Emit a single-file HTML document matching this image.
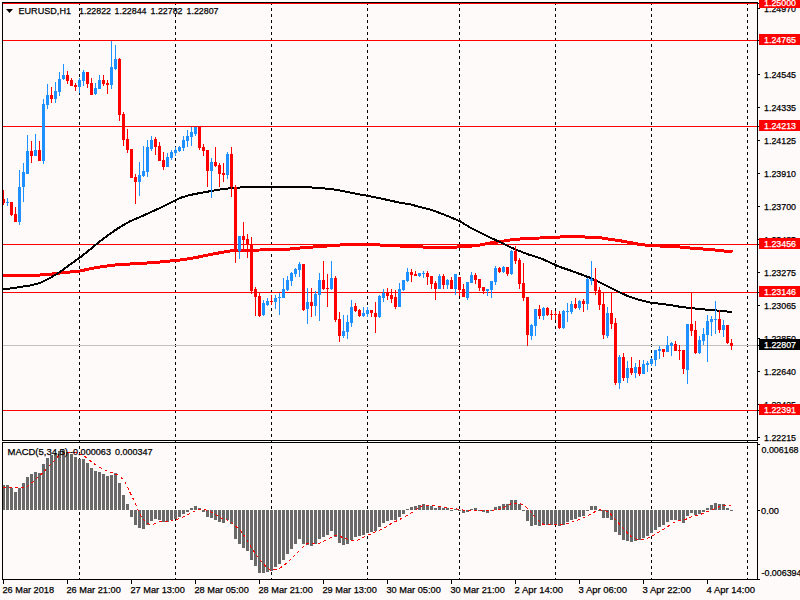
<!DOCTYPE html>
<html><head><meta charset="utf-8"><title>EURUSD,H1</title>
<style>
html,body{margin:0;padding:0;background:#FFFAFA;overflow:hidden}
svg{display:block;position:absolute;left:0;top:0}
text{font-family:"Liberation Sans",sans-serif;font-size:9.6px;stroke-width:0.25px;paint-order:stroke}
</style></head><body>
<svg width="800" height="600" viewBox="0 0 800 600">
<rect x="0" y="0" width="800" height="600" fill="#FFFAFA"/>
<g shape-rendering="crispEdges">
<rect x="2" y="2" width="756" height="1" fill="#000"/>
<rect x="2" y="440" width="756" height="1" fill="#000"/>
<rect x="2" y="2" width="1" height="439" fill="#000"/>
<rect x="757" y="2" width="1" height="439" fill="#000"/>
<rect x="2" y="442" width="756" height="1" fill="#000"/>
<rect x="2" y="579" width="758" height="1" fill="#000"/>
<rect x="2" y="442" width="1" height="138" fill="#000"/>
<rect x="757" y="442" width="1" height="138" fill="#000"/>
<path d="M79.5 2V580" stroke="#000" stroke-width="1" stroke-dasharray="3 3" fill="none"/>
<path d="M175.5 2V580" stroke="#000" stroke-width="1" stroke-dasharray="3 3" fill="none"/>
<path d="M271.5 2V580" stroke="#000" stroke-width="1" stroke-dasharray="3 3" fill="none"/>
<path d="M367.5 2V580" stroke="#000" stroke-width="1" stroke-dasharray="3 3" fill="none"/>
<path d="M459.5 2V580" stroke="#000" stroke-width="1" stroke-dasharray="3 3" fill="none"/>
<path d="M555.5 2V580" stroke="#000" stroke-width="1" stroke-dasharray="3 3" fill="none"/>
<path d="M651.5 2V580" stroke="#000" stroke-width="1" stroke-dasharray="3 3" fill="none"/>
<path d="M747.5 2V580" stroke="#000" stroke-width="1" stroke-dasharray="3 3" fill="none"/>
<rect x="3" y="3" width="754" height="1" fill="#FF0000"/>
<rect x="3" y="40" width="754" height="1" fill="#FF0000"/>
<rect x="3" y="126" width="754" height="1" fill="#FF0000"/>
<rect x="3" y="244" width="754" height="1" fill="#FF0000"/>
<rect x="3" y="292" width="754" height="1" fill="#FF0000"/>
<rect x="3" y="410" width="754" height="1" fill="#FF0000"/>
<rect x="3" y="345" width="754" height="1" fill="#C0C0C0"/>
<path d="M3 275 L40 275 L50 274.25 L60 273 L70 272 L80 271 L90 268.75 L100 267 L110 265.5 L120 264.5 L140 263.5 L160 262 L170 261 L180 260 L190 258.5 L200 256.75 L210 254.5 L220 252.75 L230 251 L240 250.4 L260 250 L280 249.5 L290 249 L300 248 L320 246.5 L340 245 L350 244.25 L360 244.25 L370 244.25 L380 245 L400 246 L415 246.5 L430 247.5 L440 248 L450 247.5 L460 246.75 L470 246.25 L480 245 L490 243 L500 241.75 L510 240 L520 239 L530 238.25 L540 238 L550 237.5 L560 237 L570 236.5 L580 236.75 L590 237.25 L600 237.75 L610 239.25 L620 240.75 L630 242.5 L640 244.5 L650 245.5 L660 246 L670 246.5 L680 247 L690 248 L700 248.75 L710 249.5 L720 250.5 L732.5 252" stroke="#FF0000" stroke-width="3" fill="none" stroke-linejoin="round" />
<path d="M3 289.5 L10 288.5 L20 287 L30 285.5 L40 283 L50 278 L60 272 L70 264.5 L80 257.5 L90 249.5 L100 241.25 L110 233.75 L120 227 L130 221.25 L140 217 L150 212.5 L160 208 L170 203 L180 198 L190 195 L200 193 L210 191.25 L220 189.5 L230 188.25 L240 187.5 L250 186.6 L256 187.4 L270 187.5 L280 187 L290 186.5 L300 186.5 L310 187.3 L320 188.25 L330 188.75 L340 190.5 L350 192.5 L360 194.5 L370 196.25 L380 198.25 L390 200.5 L400 202.75 L410 204.25 L420 207 L430 209.5 L440 213 L450 217 L460 221.25 L470 227.5 L480 232.5 L490 237.5 L500 242 L510 247 L520 251.25 L530 255 L540 258 L550 262.5 L560 267 L570 270.3 L580 274 L590 277.75 L600 282.5 L610 287.5 L620 292.5 L630 297 L640 300 L650 302.5 L660 303.75 L670 305 L680 306.75 L690 308 L700 309 L710 310 L720 310.75 L732 312" stroke="#000" stroke-width="2" fill="none" stroke-linejoin="round" />
<rect x="3" y="190" width="1" height="15" fill="#FF0000"/>
<rect x="3" y="199" width="2" height="4" fill="#FF0000"/>
<rect x="7" y="198" width="1" height="8" fill="#1E90FF"/>
<rect x="6" y="202" width="3" height="1" fill="#1E90FF"/>
<rect x="11" y="202" width="1" height="14" fill="#FF0000"/>
<rect x="10" y="202" width="3" height="13" fill="#FF0000"/>
<rect x="15" y="207" width="1" height="15" fill="#FF0000"/>
<rect x="14" y="214" width="3" height="8" fill="#FF0000"/>
<rect x="19" y="170" width="1" height="55" fill="#1E90FF"/>
<rect x="18" y="187" width="3" height="35" fill="#1E90FF"/>
<rect x="23" y="163" width="1" height="39" fill="#1E90FF"/>
<rect x="22" y="172" width="3" height="15" fill="#1E90FF"/>
<rect x="27" y="135" width="1" height="39" fill="#1E90FF"/>
<rect x="26" y="151" width="3" height="23" fill="#1E90FF"/>
<rect x="31" y="141" width="1" height="22" fill="#FF0000"/>
<rect x="30" y="151" width="3" height="5" fill="#FF0000"/>
<rect x="35" y="134" width="1" height="22" fill="#1E90FF"/>
<rect x="34" y="150" width="3" height="6" fill="#1E90FF"/>
<rect x="39" y="141" width="1" height="20" fill="#FF0000"/>
<rect x="38" y="150" width="3" height="11" fill="#FF0000"/>
<rect x="43" y="99" width="1" height="65" fill="#1E90FF"/>
<rect x="42" y="104" width="3" height="57" fill="#1E90FF"/>
<rect x="47" y="84" width="1" height="25" fill="#1E90FF"/>
<rect x="46" y="95" width="3" height="10" fill="#1E90FF"/>
<rect x="51" y="87" width="1" height="16" fill="#FF0000"/>
<rect x="50" y="95" width="3" height="4" fill="#FF0000"/>
<rect x="55" y="82" width="1" height="21" fill="#1E90FF"/>
<rect x="54" y="91" width="3" height="8" fill="#1E90FF"/>
<rect x="59" y="72" width="1" height="24" fill="#1E90FF"/>
<rect x="58" y="79" width="3" height="13" fill="#1E90FF"/>
<rect x="63" y="64" width="1" height="16" fill="#1E90FF"/>
<rect x="62" y="75" width="3" height="4" fill="#1E90FF"/>
<rect x="67" y="71" width="1" height="13" fill="#FF0000"/>
<rect x="66" y="75" width="3" height="6" fill="#FF0000"/>
<rect x="71" y="78" width="1" height="8" fill="#FF0000"/>
<rect x="70" y="80" width="3" height="6" fill="#FF0000"/>
<rect x="75" y="83" width="1" height="8" fill="#FF0000"/>
<rect x="74" y="85" width="3" height="2" fill="#FF0000"/>
<rect x="79" y="78" width="1" height="15" fill="#1E90FF"/>
<rect x="78" y="80" width="3" height="7" fill="#1E90FF"/>
<rect x="83" y="70" width="1" height="16" fill="#1E90FF"/>
<rect x="82" y="72" width="3" height="9" fill="#1E90FF"/>
<rect x="87" y="72" width="1" height="16" fill="#FF0000"/>
<rect x="86" y="72" width="3" height="12" fill="#FF0000"/>
<rect x="91" y="78" width="1" height="17" fill="#FF0000"/>
<rect x="90" y="83" width="3" height="12" fill="#FF0000"/>
<rect x="95" y="83" width="1" height="12" fill="#1E90FF"/>
<rect x="94" y="88" width="3" height="6" fill="#1E90FF"/>
<rect x="99" y="75" width="1" height="14" fill="#1E90FF"/>
<rect x="98" y="80" width="3" height="9" fill="#1E90FF"/>
<rect x="103" y="75" width="1" height="11" fill="#FF0000"/>
<rect x="102" y="80" width="3" height="4" fill="#FF0000"/>
<rect x="107" y="80" width="1" height="14" fill="#FF0000"/>
<rect x="106" y="83" width="3" height="2" fill="#FF0000"/>
<rect x="111" y="41" width="1" height="48" fill="#1E90FF"/>
<rect x="110" y="67" width="3" height="18" fill="#1E90FF"/>
<rect x="115" y="45" width="1" height="25" fill="#1E90FF"/>
<rect x="114" y="59" width="3" height="10" fill="#1E90FF"/>
<rect x="119" y="58" width="1" height="63" fill="#FF0000"/>
<rect x="118" y="59" width="3" height="56" fill="#FF0000"/>
<rect x="123" y="112" width="1" height="34" fill="#FF0000"/>
<rect x="122" y="114" width="3" height="26" fill="#FF0000"/>
<rect x="127" y="129" width="1" height="24" fill="#FF0000"/>
<rect x="126" y="139" width="3" height="11" fill="#FF0000"/>
<rect x="131" y="149" width="1" height="29" fill="#FF0000"/>
<rect x="130" y="149" width="3" height="29" fill="#FF0000"/>
<rect x="135" y="174" width="1" height="30" fill="#FF0000"/>
<rect x="134" y="177" width="3" height="5" fill="#FF0000"/>
<rect x="139" y="162" width="1" height="34" fill="#1E90FF"/>
<rect x="138" y="175" width="3" height="7" fill="#1E90FF"/>
<rect x="143" y="146" width="1" height="31" fill="#1E90FF"/>
<rect x="142" y="171" width="3" height="5" fill="#1E90FF"/>
<rect x="147" y="140" width="1" height="37" fill="#1E90FF"/>
<rect x="146" y="147" width="3" height="25" fill="#1E90FF"/>
<rect x="151" y="136" width="1" height="15" fill="#1E90FF"/>
<rect x="150" y="140" width="3" height="9" fill="#1E90FF"/>
<rect x="155" y="137" width="1" height="18" fill="#FF0000"/>
<rect x="154" y="139" width="3" height="8" fill="#FF0000"/>
<rect x="159" y="142" width="1" height="19" fill="#FF0000"/>
<rect x="158" y="146" width="3" height="15" fill="#FF0000"/>
<rect x="163" y="152" width="1" height="18" fill="#FF0000"/>
<rect x="162" y="160" width="3" height="7" fill="#FF0000"/>
<rect x="167" y="153" width="1" height="14" fill="#1E90FF"/>
<rect x="166" y="157" width="3" height="10" fill="#1E90FF"/>
<rect x="171" y="150" width="1" height="10" fill="#1E90FF"/>
<rect x="170" y="152" width="3" height="6" fill="#1E90FF"/>
<rect x="175" y="147" width="1" height="9" fill="#1E90FF"/>
<rect x="174" y="150" width="3" height="3" fill="#1E90FF"/>
<rect x="179" y="146" width="1" height="6" fill="#1E90FF"/>
<rect x="178" y="147" width="3" height="4" fill="#1E90FF"/>
<rect x="183" y="136" width="1" height="15" fill="#1E90FF"/>
<rect x="182" y="140" width="3" height="8" fill="#1E90FF"/>
<rect x="187" y="130" width="1" height="17" fill="#1E90FF"/>
<rect x="186" y="136" width="3" height="5" fill="#1E90FF"/>
<rect x="191" y="127" width="1" height="19" fill="#1E90FF"/>
<rect x="190" y="132" width="3" height="5" fill="#1E90FF"/>
<rect x="195" y="127" width="1" height="9" fill="#1E90FF"/>
<rect x="194" y="127" width="3" height="7" fill="#1E90FF"/>
<rect x="199" y="127" width="1" height="23" fill="#FF0000"/>
<rect x="198" y="127" width="3" height="21" fill="#FF0000"/>
<rect x="203" y="144" width="1" height="12" fill="#FF0000"/>
<rect x="202" y="147" width="3" height="4" fill="#FF0000"/>
<rect x="207" y="150" width="1" height="37" fill="#FF0000"/>
<rect x="206" y="150" width="3" height="21" fill="#FF0000"/>
<rect x="211" y="158" width="1" height="40" fill="#1E90FF"/>
<rect x="210" y="162" width="3" height="9" fill="#1E90FF"/>
<rect x="215" y="147" width="1" height="20" fill="#FF0000"/>
<rect x="214" y="162" width="3" height="4" fill="#FF0000"/>
<rect x="219" y="163" width="1" height="24" fill="#FF0000"/>
<rect x="218" y="165" width="3" height="9" fill="#FF0000"/>
<rect x="223" y="163" width="1" height="19" fill="#FF0000"/>
<rect x="222" y="173" width="3" height="2" fill="#FF0000"/>
<rect x="227" y="152" width="1" height="27" fill="#1E90FF"/>
<rect x="226" y="154" width="3" height="21" fill="#1E90FF"/>
<rect x="231" y="147" width="1" height="50" fill="#FF0000"/>
<rect x="230" y="154" width="3" height="33" fill="#FF0000"/>
<rect x="235" y="185" width="1" height="78" fill="#FF0000"/>
<rect x="234" y="187" width="3" height="63" fill="#FF0000"/>
<rect x="239" y="236" width="1" height="23" fill="#1E90FF"/>
<rect x="238" y="236" width="3" height="15" fill="#1E90FF"/>
<rect x="243" y="222" width="1" height="28" fill="#FF0000"/>
<rect x="242" y="236" width="3" height="4" fill="#FF0000"/>
<rect x="247" y="234" width="1" height="24" fill="#FF0000"/>
<rect x="246" y="239" width="3" height="5" fill="#FF0000"/>
<rect x="251" y="237" width="1" height="57" fill="#FF0000"/>
<rect x="250" y="244" width="3" height="47" fill="#FF0000"/>
<rect x="255" y="287" width="1" height="29" fill="#FF0000"/>
<rect x="254" y="289" width="3" height="8" fill="#FF0000"/>
<rect x="259" y="293" width="1" height="24" fill="#FF0000"/>
<rect x="258" y="296" width="3" height="20" fill="#FF0000"/>
<rect x="263" y="300" width="1" height="16" fill="#1E90FF"/>
<rect x="262" y="303" width="3" height="12" fill="#1E90FF"/>
<rect x="267" y="298" width="1" height="8" fill="#1E90FF"/>
<rect x="266" y="301" width="3" height="4" fill="#1E90FF"/>
<rect x="271" y="295" width="1" height="10" fill="#FF0000"/>
<rect x="270" y="301" width="3" height="1" fill="#FF0000"/>
<rect x="275" y="295" width="1" height="14" fill="#1E90FF"/>
<rect x="274" y="298" width="3" height="4" fill="#1E90FF"/>
<rect x="279" y="293" width="1" height="22" fill="#1E90FF"/>
<rect x="278" y="297" width="3" height="1" fill="#1E90FF"/>
<rect x="283" y="278" width="1" height="20" fill="#1E90FF"/>
<rect x="282" y="289" width="3" height="9" fill="#1E90FF"/>
<rect x="287" y="276" width="1" height="15" fill="#1E90FF"/>
<rect x="286" y="280" width="3" height="10" fill="#1E90FF"/>
<rect x="291" y="272" width="1" height="14" fill="#1E90FF"/>
<rect x="290" y="273" width="3" height="8" fill="#1E90FF"/>
<rect x="295" y="268" width="1" height="9" fill="#1E90FF"/>
<rect x="294" y="269" width="3" height="5" fill="#1E90FF"/>
<rect x="299" y="262" width="1" height="15" fill="#1E90FF"/>
<rect x="298" y="264" width="3" height="6" fill="#1E90FF"/>
<rect x="303" y="264" width="1" height="47" fill="#FF0000"/>
<rect x="302" y="264" width="3" height="46" fill="#FF0000"/>
<rect x="307" y="288" width="1" height="36" fill="#1E90FF"/>
<rect x="306" y="302" width="3" height="7" fill="#1E90FF"/>
<rect x="311" y="288" width="1" height="29" fill="#FF0000"/>
<rect x="310" y="302" width="3" height="4" fill="#FF0000"/>
<rect x="315" y="291" width="1" height="25" fill="#1E90FF"/>
<rect x="314" y="294" width="3" height="12" fill="#1E90FF"/>
<rect x="319" y="273" width="1" height="48" fill="#1E90FF"/>
<rect x="318" y="280" width="3" height="15" fill="#1E90FF"/>
<rect x="323" y="261" width="1" height="29" fill="#FF0000"/>
<rect x="322" y="280" width="3" height="9" fill="#FF0000"/>
<rect x="327" y="274" width="1" height="33" fill="#FF0000"/>
<rect x="326" y="288" width="3" height="1" fill="#FF0000"/>
<rect x="331" y="261" width="1" height="29" fill="#1E90FF"/>
<rect x="330" y="278" width="3" height="11" fill="#1E90FF"/>
<rect x="335" y="276" width="1" height="46" fill="#FF0000"/>
<rect x="334" y="278" width="3" height="42" fill="#FF0000"/>
<rect x="339" y="312" width="1" height="30" fill="#FF0000"/>
<rect x="338" y="319" width="3" height="17" fill="#FF0000"/>
<rect x="343" y="315" width="1" height="23" fill="#1E90FF"/>
<rect x="342" y="331" width="3" height="5" fill="#1E90FF"/>
<rect x="347" y="315" width="1" height="24" fill="#1E90FF"/>
<rect x="346" y="322" width="3" height="10" fill="#1E90FF"/>
<rect x="351" y="300" width="1" height="27" fill="#1E90FF"/>
<rect x="350" y="307" width="3" height="16" fill="#1E90FF"/>
<rect x="355" y="303" width="1" height="9" fill="#FF0000"/>
<rect x="354" y="306" width="3" height="5" fill="#FF0000"/>
<rect x="359" y="309" width="1" height="8" fill="#FF0000"/>
<rect x="358" y="310" width="3" height="6" fill="#FF0000"/>
<rect x="363" y="307" width="1" height="10" fill="#1E90FF"/>
<rect x="362" y="313" width="3" height="3" fill="#1E90FF"/>
<rect x="367" y="307" width="1" height="10" fill="#1E90FF"/>
<rect x="366" y="310" width="3" height="4" fill="#1E90FF"/>
<rect x="371" y="310" width="1" height="7" fill="#FF0000"/>
<rect x="370" y="310" width="3" height="3" fill="#FF0000"/>
<rect x="375" y="302" width="1" height="31" fill="#FF0000"/>
<rect x="374" y="313" width="3" height="4" fill="#FF0000"/>
<rect x="379" y="295" width="1" height="23" fill="#1E90FF"/>
<rect x="378" y="296" width="3" height="21" fill="#1E90FF"/>
<rect x="383" y="289" width="1" height="13" fill="#1E90FF"/>
<rect x="382" y="293" width="3" height="5" fill="#1E90FF"/>
<rect x="387" y="288" width="1" height="12" fill="#FF0000"/>
<rect x="386" y="292" width="3" height="4" fill="#FF0000"/>
<rect x="391" y="289" width="1" height="14" fill="#FF0000"/>
<rect x="390" y="295" width="3" height="4" fill="#FF0000"/>
<rect x="395" y="290" width="1" height="19" fill="#FF0000"/>
<rect x="394" y="297" width="3" height="10" fill="#FF0000"/>
<rect x="399" y="283" width="1" height="24" fill="#1E90FF"/>
<rect x="398" y="289" width="3" height="18" fill="#1E90FF"/>
<rect x="403" y="280" width="1" height="11" fill="#1E90FF"/>
<rect x="402" y="280" width="3" height="10" fill="#1E90FF"/>
<rect x="407" y="268" width="1" height="14" fill="#1E90FF"/>
<rect x="406" y="272" width="3" height="9" fill="#1E90FF"/>
<rect x="411" y="269" width="1" height="13" fill="#FF0000"/>
<rect x="410" y="272" width="3" height="3" fill="#FF0000"/>
<rect x="415" y="271" width="1" height="5" fill="#FF0000"/>
<rect x="414" y="274" width="3" height="2" fill="#FF0000"/>
<rect x="419" y="273" width="1" height="4" fill="#1E90FF"/>
<rect x="418" y="273" width="3" height="3" fill="#1E90FF"/>
<rect x="423" y="271" width="1" height="7" fill="#1E90FF"/>
<rect x="422" y="273" width="3" height="1" fill="#1E90FF"/>
<rect x="427" y="271" width="1" height="14" fill="#FF0000"/>
<rect x="426" y="273" width="3" height="4" fill="#FF0000"/>
<rect x="431" y="276" width="1" height="13" fill="#FF0000"/>
<rect x="430" y="276" width="3" height="8" fill="#FF0000"/>
<rect x="435" y="281" width="1" height="19" fill="#FF0000"/>
<rect x="434" y="283" width="3" height="6" fill="#FF0000"/>
<rect x="439" y="274" width="1" height="15" fill="#1E90FF"/>
<rect x="438" y="276" width="3" height="13" fill="#1E90FF"/>
<rect x="443" y="274" width="1" height="15" fill="#FF0000"/>
<rect x="442" y="276" width="3" height="9" fill="#FF0000"/>
<rect x="447" y="279" width="1" height="10" fill="#1E90FF"/>
<rect x="446" y="280" width="3" height="5" fill="#1E90FF"/>
<rect x="451" y="277" width="1" height="12" fill="#FF0000"/>
<rect x="450" y="280" width="3" height="9" fill="#FF0000"/>
<rect x="455" y="274" width="1" height="21" fill="#1E90FF"/>
<rect x="454" y="274" width="3" height="15" fill="#1E90FF"/>
<rect x="459" y="277" width="1" height="19" fill="#FF0000"/>
<rect x="458" y="277" width="3" height="13" fill="#FF0000"/>
<rect x="463" y="284" width="1" height="13" fill="#FF0000"/>
<rect x="462" y="289" width="3" height="8" fill="#FF0000"/>
<rect x="467" y="282" width="1" height="18" fill="#1E90FF"/>
<rect x="466" y="282" width="3" height="16" fill="#1E90FF"/>
<rect x="471" y="272" width="1" height="11" fill="#1E90FF"/>
<rect x="470" y="275" width="3" height="8" fill="#1E90FF"/>
<rect x="475" y="273" width="1" height="11" fill="#FF0000"/>
<rect x="474" y="275" width="3" height="5" fill="#FF0000"/>
<rect x="479" y="279" width="1" height="12" fill="#FF0000"/>
<rect x="478" y="279" width="3" height="9" fill="#FF0000"/>
<rect x="483" y="287" width="1" height="7" fill="#FF0000"/>
<rect x="482" y="287" width="3" height="4" fill="#FF0000"/>
<rect x="487" y="289" width="1" height="7" fill="#1E90FF"/>
<rect x="486" y="289" width="3" height="2" fill="#1E90FF"/>
<rect x="491" y="281" width="1" height="17" fill="#1E90FF"/>
<rect x="490" y="281" width="3" height="9" fill="#1E90FF"/>
<rect x="495" y="266" width="1" height="19" fill="#1E90FF"/>
<rect x="494" y="268" width="3" height="14" fill="#1E90FF"/>
<rect x="499" y="267" width="1" height="6" fill="#FF0000"/>
<rect x="498" y="268" width="3" height="4" fill="#FF0000"/>
<rect x="503" y="266" width="1" height="7" fill="#1E90FF"/>
<rect x="502" y="267" width="3" height="5" fill="#1E90FF"/>
<rect x="507" y="267" width="1" height="9" fill="#FF0000"/>
<rect x="506" y="267" width="3" height="7" fill="#FF0000"/>
<rect x="511" y="250" width="1" height="25" fill="#1E90FF"/>
<rect x="510" y="251" width="3" height="23" fill="#1E90FF"/>
<rect x="515" y="246" width="1" height="18" fill="#FF0000"/>
<rect x="514" y="251" width="3" height="10" fill="#FF0000"/>
<rect x="519" y="258" width="1" height="31" fill="#FF0000"/>
<rect x="518" y="260" width="3" height="24" fill="#FF0000"/>
<rect x="523" y="263" width="1" height="38" fill="#FF0000"/>
<rect x="522" y="283" width="3" height="15" fill="#FF0000"/>
<rect x="527" y="297" width="1" height="49" fill="#FF0000"/>
<rect x="526" y="297" width="3" height="38" fill="#FF0000"/>
<rect x="531" y="324" width="1" height="16" fill="#1E90FF"/>
<rect x="530" y="325" width="3" height="11" fill="#1E90FF"/>
<rect x="535" y="309" width="1" height="27" fill="#1E90FF"/>
<rect x="534" y="309" width="3" height="17" fill="#1E90FF"/>
<rect x="539" y="305" width="1" height="14" fill="#FF0000"/>
<rect x="538" y="309" width="3" height="7" fill="#FF0000"/>
<rect x="543" y="307" width="1" height="13" fill="#1E90FF"/>
<rect x="542" y="308" width="3" height="8" fill="#1E90FF"/>
<rect x="547" y="307" width="1" height="9" fill="#FF0000"/>
<rect x="546" y="308" width="3" height="7" fill="#FF0000"/>
<rect x="551" y="310" width="1" height="10" fill="#FF0000"/>
<rect x="550" y="314" width="3" height="1" fill="#FF0000"/>
<rect x="555" y="311" width="1" height="9" fill="#FF0000"/>
<rect x="554" y="314" width="3" height="1" fill="#FF0000"/>
<rect x="559" y="311" width="1" height="18" fill="#FF0000"/>
<rect x="558" y="314" width="3" height="14" fill="#FF0000"/>
<rect x="563" y="310" width="1" height="19" fill="#1E90FF"/>
<rect x="562" y="311" width="3" height="17" fill="#1E90FF"/>
<rect x="567" y="303" width="1" height="19" fill="#1E90FF"/>
<rect x="566" y="311" width="3" height="1" fill="#1E90FF"/>
<rect x="571" y="301" width="1" height="13" fill="#1E90FF"/>
<rect x="570" y="304" width="3" height="8" fill="#1E90FF"/>
<rect x="575" y="298" width="1" height="11" fill="#FF0000"/>
<rect x="574" y="304" width="3" height="4" fill="#FF0000"/>
<rect x="579" y="300" width="1" height="10" fill="#1E90FF"/>
<rect x="578" y="301" width="3" height="7" fill="#1E90FF"/>
<rect x="583" y="299" width="1" height="13" fill="#FF0000"/>
<rect x="582" y="301" width="3" height="3" fill="#FF0000"/>
<rect x="587" y="278" width="1" height="32" fill="#1E90FF"/>
<rect x="586" y="279" width="3" height="25" fill="#1E90FF"/>
<rect x="591" y="261" width="1" height="24" fill="#1E90FF"/>
<rect x="590" y="279" width="3" height="2" fill="#1E90FF"/>
<rect x="595" y="268" width="1" height="27" fill="#FF0000"/>
<rect x="594" y="279" width="3" height="12" fill="#FF0000"/>
<rect x="599" y="287" width="1" height="23" fill="#FF0000"/>
<rect x="598" y="290" width="3" height="15" fill="#FF0000"/>
<rect x="603" y="293" width="1" height="46" fill="#FF0000"/>
<rect x="602" y="304" width="3" height="31" fill="#FF0000"/>
<rect x="607" y="307" width="1" height="31" fill="#1E90FF"/>
<rect x="606" y="313" width="3" height="23" fill="#1E90FF"/>
<rect x="611" y="293" width="1" height="36" fill="#FF0000"/>
<rect x="610" y="313" width="3" height="11" fill="#FF0000"/>
<rect x="615" y="318" width="1" height="67" fill="#FF0000"/>
<rect x="614" y="323" width="3" height="60" fill="#FF0000"/>
<rect x="619" y="355" width="1" height="34" fill="#1E90FF"/>
<rect x="618" y="357" width="3" height="26" fill="#1E90FF"/>
<rect x="623" y="353" width="1" height="28" fill="#FF0000"/>
<rect x="622" y="357" width="3" height="21" fill="#FF0000"/>
<rect x="627" y="361" width="1" height="22" fill="#1E90FF"/>
<rect x="626" y="368" width="3" height="10" fill="#1E90FF"/>
<rect x="631" y="357" width="1" height="18" fill="#FF0000"/>
<rect x="630" y="368" width="3" height="5" fill="#FF0000"/>
<rect x="635" y="363" width="1" height="15" fill="#1E90FF"/>
<rect x="634" y="367" width="3" height="6" fill="#1E90FF"/>
<rect x="639" y="360" width="1" height="16" fill="#FF0000"/>
<rect x="638" y="367" width="3" height="7" fill="#FF0000"/>
<rect x="643" y="360" width="1" height="14" fill="#1E90FF"/>
<rect x="642" y="364" width="3" height="10" fill="#1E90FF"/>
<rect x="647" y="361" width="1" height="11" fill="#1E90FF"/>
<rect x="646" y="363" width="3" height="2" fill="#1E90FF"/>
<rect x="651" y="358" width="1" height="8" fill="#1E90FF"/>
<rect x="650" y="359" width="3" height="5" fill="#1E90FF"/>
<rect x="655" y="350" width="1" height="16" fill="#1E90FF"/>
<rect x="654" y="350" width="3" height="10" fill="#1E90FF"/>
<rect x="659" y="346" width="1" height="13" fill="#1E90FF"/>
<rect x="658" y="349" width="3" height="2" fill="#1E90FF"/>
<rect x="663" y="349" width="1" height="8" fill="#FF0000"/>
<rect x="662" y="349" width="3" height="3" fill="#FF0000"/>
<rect x="667" y="336" width="1" height="16" fill="#1E90FF"/>
<rect x="666" y="345" width="3" height="7" fill="#1E90FF"/>
<rect x="671" y="342" width="1" height="14" fill="#1E90FF"/>
<rect x="670" y="343" width="3" height="3" fill="#1E90FF"/>
<rect x="675" y="341" width="1" height="10" fill="#FF0000"/>
<rect x="674" y="344" width="3" height="7" fill="#FF0000"/>
<rect x="679" y="345" width="1" height="15" fill="#FF0000"/>
<rect x="678" y="350" width="3" height="1" fill="#FF0000"/>
<rect x="683" y="350" width="1" height="24" fill="#FF0000"/>
<rect x="682" y="350" width="3" height="19" fill="#FF0000"/>
<rect x="687" y="324" width="1" height="60" fill="#1E90FF"/>
<rect x="686" y="324" width="3" height="46" fill="#1E90FF"/>
<rect x="691" y="293" width="1" height="43" fill="#FF0000"/>
<rect x="690" y="324" width="3" height="7" fill="#FF0000"/>
<rect x="695" y="321" width="1" height="33" fill="#FF0000"/>
<rect x="694" y="330" width="3" height="23" fill="#FF0000"/>
<rect x="699" y="336" width="1" height="18" fill="#1E90FF"/>
<rect x="698" y="340" width="3" height="13" fill="#1E90FF"/>
<rect x="703" y="328" width="1" height="17" fill="#1E90FF"/>
<rect x="702" y="334" width="3" height="7" fill="#1E90FF"/>
<rect x="707" y="315" width="1" height="47" fill="#1E90FF"/>
<rect x="706" y="321" width="3" height="14" fill="#1E90FF"/>
<rect x="711" y="316" width="1" height="20" fill="#1E90FF"/>
<rect x="710" y="319" width="3" height="3" fill="#1E90FF"/>
<rect x="715" y="301" width="1" height="33" fill="#1E90FF"/>
<rect x="714" y="319" width="3" height="1" fill="#1E90FF"/>
<rect x="719" y="310" width="1" height="23" fill="#FF0000"/>
<rect x="718" y="319" width="3" height="11" fill="#FF0000"/>
<rect x="723" y="320" width="1" height="17" fill="#1E90FF"/>
<rect x="722" y="325" width="3" height="5" fill="#1E90FF"/>
<rect x="727" y="325" width="1" height="19" fill="#FF0000"/>
<rect x="726" y="325" width="3" height="18" fill="#FF0000"/>
<rect x="731" y="339" width="1" height="11" fill="#FF0000"/>
<rect x="730" y="343" width="3" height="3" fill="#FF0000"/>
<rect x="3" y="485" width="2" height="25" fill="#696969"/>
<rect x="6" y="485" width="3" height="25" fill="#696969"/>
<rect x="10" y="488" width="3" height="22" fill="#696969"/>
<rect x="14" y="492" width="3" height="18" fill="#696969"/>
<rect x="18" y="488" width="3" height="22" fill="#696969"/>
<rect x="22" y="483" width="3" height="27" fill="#696969"/>
<rect x="26" y="477" width="3" height="33" fill="#696969"/>
<rect x="30" y="474" width="3" height="36" fill="#696969"/>
<rect x="34" y="472" width="3" height="38" fill="#696969"/>
<rect x="38" y="473" width="3" height="37" fill="#696969"/>
<rect x="42" y="464" width="3" height="46" fill="#696969"/>
<rect x="46" y="458" width="3" height="52" fill="#696969"/>
<rect x="50" y="455" width="3" height="55" fill="#696969"/>
<rect x="54" y="453" width="3" height="57" fill="#696969"/>
<rect x="58" y="451" width="3" height="59" fill="#696969"/>
<rect x="62" y="450" width="3" height="60" fill="#696969"/>
<rect x="66" y="452" width="3" height="58" fill="#696969"/>
<rect x="70" y="454" width="3" height="56" fill="#696969"/>
<rect x="74" y="457" width="3" height="53" fill="#696969"/>
<rect x="78" y="459" width="3" height="51" fill="#696969"/>
<rect x="82" y="459" width="3" height="51" fill="#696969"/>
<rect x="86" y="463" width="3" height="47" fill="#696969"/>
<rect x="90" y="468" width="3" height="42" fill="#696969"/>
<rect x="94" y="471" width="3" height="39" fill="#696969"/>
<rect x="98" y="472" width="3" height="38" fill="#696969"/>
<rect x="102" y="474" width="3" height="36" fill="#696969"/>
<rect x="106" y="476" width="3" height="34" fill="#696969"/>
<rect x="110" y="475" width="3" height="35" fill="#696969"/>
<rect x="114" y="473" width="3" height="37" fill="#696969"/>
<rect x="118" y="483" width="3" height="27" fill="#696969"/>
<rect x="122" y="495" width="3" height="15" fill="#696969"/>
<rect x="126" y="504" width="3" height="6" fill="#696969"/>
<rect x="130" y="510" width="3" height="7" fill="#696969"/>
<rect x="134" y="510" width="3" height="15" fill="#696969"/>
<rect x="138" y="510" width="3" height="18" fill="#696969"/>
<rect x="142" y="510" width="3" height="19" fill="#696969"/>
<rect x="146" y="510" width="3" height="15" fill="#696969"/>
<rect x="150" y="510" width="3" height="11" fill="#696969"/>
<rect x="154" y="510" width="3" height="9" fill="#696969"/>
<rect x="158" y="510" width="3" height="10" fill="#696969"/>
<rect x="162" y="510" width="3" height="12" fill="#696969"/>
<rect x="166" y="510" width="3" height="12" fill="#696969"/>
<rect x="170" y="510" width="3" height="10" fill="#696969"/>
<rect x="174" y="510" width="3" height="9" fill="#696969"/>
<rect x="178" y="510" width="3" height="7" fill="#696969"/>
<rect x="182" y="510" width="3" height="4" fill="#696969"/>
<rect x="186" y="510" width="3" height="2" fill="#696969"/>
<rect x="190" y="508" width="3" height="2" fill="#696969"/>
<rect x="194" y="506" width="3" height="4" fill="#696969"/>
<rect x="198" y="508" width="3" height="2" fill="#696969"/>
<rect x="202" y="510" width="3" height="2" fill="#696969"/>
<rect x="206" y="510" width="3" height="7" fill="#696969"/>
<rect x="210" y="510" width="3" height="8" fill="#696969"/>
<rect x="214" y="510" width="3" height="10" fill="#696969"/>
<rect x="218" y="510" width="3" height="12" fill="#696969"/>
<rect x="222" y="510" width="3" height="13" fill="#696969"/>
<rect x="226" y="510" width="3" height="10" fill="#696969"/>
<rect x="230" y="510" width="3" height="14" fill="#696969"/>
<rect x="234" y="510" width="3" height="29" fill="#696969"/>
<rect x="238" y="510" width="3" height="34" fill="#696969"/>
<rect x="242" y="510" width="3" height="38" fill="#696969"/>
<rect x="246" y="510" width="3" height="41" fill="#696969"/>
<rect x="250" y="510" width="3" height="50" fill="#696969"/>
<rect x="254" y="510" width="3" height="56" fill="#696969"/>
<rect x="258" y="510" width="3" height="63" fill="#696969"/>
<rect x="262" y="510" width="3" height="63" fill="#696969"/>
<rect x="266" y="510" width="3" height="62" fill="#696969"/>
<rect x="270" y="510" width="3" height="61" fill="#696969"/>
<rect x="274" y="510" width="3" height="57" fill="#696969"/>
<rect x="278" y="510" width="3" height="54" fill="#696969"/>
<rect x="282" y="510" width="3" height="50" fill="#696969"/>
<rect x="286" y="510" width="3" height="44" fill="#696969"/>
<rect x="290" y="510" width="3" height="39" fill="#696969"/>
<rect x="294" y="510" width="3" height="34" fill="#696969"/>
<rect x="298" y="510" width="3" height="29" fill="#696969"/>
<rect x="302" y="510" width="3" height="34" fill="#696969"/>
<rect x="306" y="510" width="3" height="35" fill="#696969"/>
<rect x="310" y="510" width="3" height="36" fill="#696969"/>
<rect x="314" y="510" width="3" height="34" fill="#696969"/>
<rect x="318" y="510" width="3" height="29" fill="#696969"/>
<rect x="322" y="510" width="3" height="27" fill="#696969"/>
<rect x="326" y="510" width="3" height="25" fill="#696969"/>
<rect x="330" y="510" width="3" height="21" fill="#696969"/>
<rect x="334" y="510" width="3" height="27" fill="#696969"/>
<rect x="338" y="510" width="3" height="33" fill="#696969"/>
<rect x="342" y="510" width="3" height="35" fill="#696969"/>
<rect x="346" y="510" width="3" height="34" fill="#696969"/>
<rect x="350" y="510" width="3" height="30" fill="#696969"/>
<rect x="354" y="510" width="3" height="27" fill="#696969"/>
<rect x="358" y="510" width="3" height="26" fill="#696969"/>
<rect x="362" y="510" width="3" height="25" fill="#696969"/>
<rect x="366" y="510" width="3" height="23" fill="#696969"/>
<rect x="370" y="510" width="3" height="22" fill="#696969"/>
<rect x="374" y="510" width="3" height="21" fill="#696969"/>
<rect x="378" y="510" width="3" height="17" fill="#696969"/>
<rect x="382" y="510" width="3" height="13" fill="#696969"/>
<rect x="386" y="510" width="3" height="11" fill="#696969"/>
<rect x="390" y="510" width="3" height="10" fill="#696969"/>
<rect x="394" y="510" width="3" height="10" fill="#696969"/>
<rect x="398" y="510" width="3" height="7" fill="#696969"/>
<rect x="402" y="510" width="3" height="4" fill="#696969"/>
<rect x="406" y="509" width="3" height="1" fill="#696969"/>
<rect x="410" y="507" width="3" height="3" fill="#696969"/>
<rect x="414" y="506" width="3" height="4" fill="#696969"/>
<rect x="418" y="505" width="3" height="5" fill="#696969"/>
<rect x="422" y="504" width="3" height="6" fill="#696969"/>
<rect x="426" y="505" width="3" height="5" fill="#696969"/>
<rect x="430" y="506" width="3" height="4" fill="#696969"/>
<rect x="434" y="508" width="3" height="2" fill="#696969"/>
<rect x="438" y="507" width="3" height="3" fill="#696969"/>
<rect x="442" y="508" width="3" height="2" fill="#696969"/>
<rect x="446" y="508" width="3" height="2" fill="#696969"/>
<rect x="450" y="510" width="3" height="1" fill="#696969"/>
<rect x="454" y="509" width="3" height="1" fill="#696969"/>
<rect x="458" y="510" width="3" height="1" fill="#696969"/>
<rect x="462" y="510" width="3" height="3" fill="#696969"/>
<rect x="466" y="510" width="3" height="2" fill="#696969"/>
<rect x="470" y="509" width="3" height="1" fill="#696969"/>
<rect x="474" y="508" width="3" height="2" fill="#696969"/>
<rect x="478" y="510" width="3" height="1" fill="#696969"/>
<rect x="482" y="510" width="3" height="2" fill="#696969"/>
<rect x="486" y="510" width="3" height="3" fill="#696969"/>
<rect x="490" y="510" width="3" height="1" fill="#696969"/>
<rect x="494" y="507" width="3" height="3" fill="#696969"/>
<rect x="498" y="506" width="3" height="4" fill="#696969"/>
<rect x="502" y="504" width="3" height="6" fill="#696969"/>
<rect x="506" y="504" width="3" height="6" fill="#696969"/>
<rect x="510" y="500" width="3" height="10" fill="#696969"/>
<rect x="514" y="500" width="3" height="10" fill="#696969"/>
<rect x="518" y="504" width="3" height="6" fill="#696969"/>
<rect x="522" y="510" width="3" height="1" fill="#696969"/>
<rect x="526" y="510" width="3" height="11" fill="#696969"/>
<rect x="530" y="510" width="3" height="16" fill="#696969"/>
<rect x="534" y="510" width="3" height="15" fill="#696969"/>
<rect x="538" y="510" width="3" height="16" fill="#696969"/>
<rect x="542" y="510" width="3" height="15" fill="#696969"/>
<rect x="546" y="510" width="3" height="15" fill="#696969"/>
<rect x="550" y="510" width="3" height="15" fill="#696969"/>
<rect x="554" y="510" width="3" height="15" fill="#696969"/>
<rect x="558" y="510" width="3" height="16" fill="#696969"/>
<rect x="562" y="510" width="3" height="15" fill="#696969"/>
<rect x="566" y="510" width="3" height="12" fill="#696969"/>
<rect x="570" y="510" width="3" height="10" fill="#696969"/>
<rect x="574" y="510" width="3" height="9" fill="#696969"/>
<rect x="578" y="510" width="3" height="7" fill="#696969"/>
<rect x="582" y="510" width="3" height="6" fill="#696969"/>
<rect x="586" y="510" width="3" height="1" fill="#696969"/>
<rect x="590" y="506" width="3" height="4" fill="#696969"/>
<rect x="594" y="506" width="3" height="4" fill="#696969"/>
<rect x="598" y="510" width="3" height="1" fill="#696969"/>
<rect x="602" y="510" width="3" height="8" fill="#696969"/>
<rect x="606" y="510" width="3" height="8" fill="#696969"/>
<rect x="610" y="510" width="3" height="10" fill="#696969"/>
<rect x="614" y="510" width="3" height="22" fill="#696969"/>
<rect x="618" y="510" width="3" height="25" fill="#696969"/>
<rect x="622" y="510" width="3" height="30" fill="#696969"/>
<rect x="626" y="510" width="3" height="31" fill="#696969"/>
<rect x="630" y="510" width="3" height="32" fill="#696969"/>
<rect x="634" y="510" width="3" height="31" fill="#696969"/>
<rect x="638" y="510" width="3" height="30" fill="#696969"/>
<rect x="642" y="510" width="3" height="28" fill="#696969"/>
<rect x="646" y="510" width="3" height="26" fill="#696969"/>
<rect x="650" y="510" width="3" height="23" fill="#696969"/>
<rect x="654" y="510" width="3" height="20" fill="#696969"/>
<rect x="658" y="510" width="3" height="17" fill="#696969"/>
<rect x="662" y="510" width="3" height="15" fill="#696969"/>
<rect x="666" y="510" width="3" height="12" fill="#696969"/>
<rect x="670" y="510" width="3" height="10" fill="#696969"/>
<rect x="674" y="510" width="3" height="10" fill="#696969"/>
<rect x="678" y="510" width="3" height="11" fill="#696969"/>
<rect x="682" y="510" width="3" height="13" fill="#696969"/>
<rect x="686" y="510" width="3" height="6" fill="#696969"/>
<rect x="690" y="510" width="3" height="3" fill="#696969"/>
<rect x="694" y="510" width="3" height="5" fill="#696969"/>
<rect x="698" y="510" width="3" height="4" fill="#696969"/>
<rect x="702" y="510" width="3" height="2" fill="#696969"/>
<rect x="706" y="508" width="3" height="2" fill="#696969"/>
<rect x="710" y="505" width="3" height="5" fill="#696969"/>
<rect x="714" y="503" width="3" height="7" fill="#696969"/>
<rect x="718" y="504" width="3" height="6" fill="#696969"/>
<rect x="722" y="504" width="3" height="6" fill="#696969"/>
<rect x="726" y="508" width="3" height="2" fill="#696969"/>
<rect x="730" y="510" width="3" height="1" fill="#696969"/>
</g>
<path d="M3 487 L20 488 L27 487 L35 480 L43 472.5 L51 464 L59 455.6 L67 452.5 L75 452.5 L83 455 L91 461.5 L99 467 L107 471 L115 473.75 L120 476 L125 482 L130 492.5 L135 502.5 L139 512.5 L143 518.75 L147 523 L151 524.75 L155 523.75 L159 522 L163 521 L167 521 L171 521 L175 520 L179 518.75 L183 517 L187 515 L193 512 L199 509.4 L205 509.4 L211 512 L217 515.6 L223 519 L229 520.6 L235 525.6 L241 531 L247 540 L253 550 L259 558.75 L265 565.6 L271 570.6 L279 568.75 L287 563 L295 555 L303 547 L307 543.75 L315 543.5 L320 543 L327 539.75 L333 536 L337 535.6 L343 537.5 L349 540 L355 541 L361 538.75 L367 535.6 L375 532 L383 528.75 L391 523.75 L399 519.75 L407 515.6 L415 510.6 L419 507.75 L423 505.6 L431 505.6 L439 506.5 L447 508 L455 508.75 L459 509.4 L467 510.6 L475 510.4 L483 510.4 L491 510.4 L499 509.4 L503 508 L507 505.6 L511 503.75 L517 503 L523 504.4 L529 509.4 L533 515 L539 521 L543 524.4 L551 524.4 L559 524.4 L563 524.4 L569 523 L575 521 L581 519 L587 516 L593 512.75 L599 509.75 L605 510.4 L611 514.4 L617 521 L623 528 L629 535 L633 537.75 L639 540 L643 539.4 L649 537.75 L655 534.4 L661 530.6 L667 527 L673 523 L679 520.6 L685 519.75 L691 517 L697 515.6 L703 513.5 L709 511 L715 508.5 L721 506 L727 505.6 L731 505.6" stroke="#FF0000" stroke-width="1" fill="none" stroke-linejoin="round" stroke-dasharray="3 3" shape-rendering="crispEdges"/>
<g shape-rendering="crispEdges">
<rect x="758" y="8" width="2" height="1" fill="#000"/>
<rect x="758" y="74" width="2" height="1" fill="#000"/>
<rect x="758" y="107" width="2" height="1" fill="#000"/>
<rect x="758" y="140" width="2" height="1" fill="#000"/>
<rect x="758" y="173" width="2" height="1" fill="#000"/>
<rect x="758" y="206" width="2" height="1" fill="#000"/>
<rect x="758" y="239" width="2" height="1" fill="#000"/>
<rect x="758" y="272" width="2" height="1" fill="#000"/>
<rect x="758" y="305" width="2" height="1" fill="#000"/>
<rect x="758" y="338" width="2" height="1" fill="#000"/>
<rect x="758" y="371" width="2" height="1" fill="#000"/>
<rect x="758" y="404" width="2" height="1" fill="#000"/>
<rect x="758" y="437" width="2" height="1" fill="#000"/>
<rect x="758" y="3" width="1" height="1" fill="#000"/>
<rect x="758" y="40" width="1" height="1" fill="#000"/>
<rect x="758" y="126" width="1" height="1" fill="#000"/>
<rect x="758" y="244" width="1" height="1" fill="#000"/>
<rect x="758" y="292" width="1" height="1" fill="#000"/>
<rect x="758" y="345" width="1" height="1" fill="#000"/>
<rect x="758" y="410" width="1" height="1" fill="#000"/>
<rect x="758" y="444" width="2" height="1" fill="#000"/>
<rect x="758" y="510" width="2" height="1" fill="#000"/>
<rect x="3" y="580" width="1" height="4" fill="#000"/>
<rect x="67" y="580" width="1" height="4" fill="#000"/>
<rect x="131" y="580" width="1" height="4" fill="#000"/>
<rect x="195" y="580" width="1" height="4" fill="#000"/>
<rect x="259" y="580" width="1" height="4" fill="#000"/>
<rect x="323" y="580" width="1" height="4" fill="#000"/>
<rect x="387" y="580" width="1" height="4" fill="#000"/>
<rect x="451" y="580" width="1" height="4" fill="#000"/>
<rect x="515" y="580" width="1" height="4" fill="#000"/>
<rect x="579" y="580" width="1" height="4" fill="#000"/>
<rect x="643" y="580" width="1" height="4" fill="#000"/>
<rect x="707" y="580" width="1" height="4" fill="#000"/>
</g>
<text x="764" y="12" fill="#000" stroke="#000" textLength="32" lengthAdjust="spacingAndGlyphs">1.24970</text>
<text x="764" y="78" fill="#000" stroke="#000" textLength="32" lengthAdjust="spacingAndGlyphs">1.24545</text>
<text x="764" y="111" fill="#000" stroke="#000" textLength="32" lengthAdjust="spacingAndGlyphs">1.24335</text>
<text x="764" y="144" fill="#000" stroke="#000" textLength="32" lengthAdjust="spacingAndGlyphs">1.24125</text>
<text x="764" y="177" fill="#000" stroke="#000" textLength="32" lengthAdjust="spacingAndGlyphs">1.23910</text>
<text x="764" y="210" fill="#000" stroke="#000" textLength="32" lengthAdjust="spacingAndGlyphs">1.23700</text>
<text x="764" y="243" fill="#000" stroke="#000" textLength="32" lengthAdjust="spacingAndGlyphs">1.23485</text>
<text x="764" y="276" fill="#000" stroke="#000" textLength="32" lengthAdjust="spacingAndGlyphs">1.23275</text>
<text x="764" y="309" fill="#000" stroke="#000" textLength="32" lengthAdjust="spacingAndGlyphs">1.23065</text>
<text x="764" y="342" fill="#000" stroke="#000" textLength="32" lengthAdjust="spacingAndGlyphs">1.22850</text>
<text x="764" y="375" fill="#000" stroke="#000" textLength="32" lengthAdjust="spacingAndGlyphs">1.22640</text>
<text x="764" y="408" fill="#000" stroke="#000" textLength="32" lengthAdjust="spacingAndGlyphs">1.22425</text>
<text x="764" y="441" fill="#000" stroke="#000" textLength="32" lengthAdjust="spacingAndGlyphs">1.22215</text>
<g shape-rendering="crispEdges">
<rect x="759" y="-3" width="41" height="11" fill="#FF0000"/>
<rect x="759" y="34" width="41" height="11" fill="#FF0000"/>
<rect x="759" y="120" width="41" height="11" fill="#FF0000"/>
<rect x="759" y="238" width="41" height="11" fill="#FF0000"/>
<rect x="759" y="286" width="41" height="11" fill="#FF0000"/>
<rect x="759" y="404" width="41" height="11" fill="#FF0000"/>
<rect x="759" y="339" width="41" height="11" fill="#000"/>
</g>
<text x="764" y="6" fill="#fff" stroke="#fff" textLength="32" lengthAdjust="spacingAndGlyphs">1.25000</text>
<text x="764" y="43" fill="#fff" stroke="#fff" textLength="32" lengthAdjust="spacingAndGlyphs">1.24765</text>
<text x="764" y="129" fill="#fff" stroke="#fff" textLength="32" lengthAdjust="spacingAndGlyphs">1.24213</text>
<text x="764" y="247" fill="#fff" stroke="#fff" textLength="32" lengthAdjust="spacingAndGlyphs">1.23456</text>
<text x="764" y="295" fill="#fff" stroke="#fff" textLength="32" lengthAdjust="spacingAndGlyphs">1.23146</text>
<text x="764" y="413" fill="#fff" stroke="#fff" textLength="32" lengthAdjust="spacingAndGlyphs">1.22391</text>
<text x="764" y="348" fill="#fff" stroke="#fff" textLength="32" lengthAdjust="spacingAndGlyphs">1.22807</text>
<text x="761.5" y="453" fill="#000" stroke="#000" textLength="37" lengthAdjust="spacingAndGlyphs">0.006168</text>
<text x="761" y="514" fill="#000" stroke="#000" textLength="18" lengthAdjust="spacingAndGlyphs">0.00</text>
<text x="761.5" y="576" fill="#000" stroke="#000" textLength="40" lengthAdjust="spacingAndGlyphs">-0.006394</text>
<path d="M6 9H13L9.5 13Z" fill="#000"/>
<text x="18.5" y="14" fill="#000" stroke="#000" textLength="52.5" lengthAdjust="spacingAndGlyphs">EURUSD,H1</text>
<text x="79" y="14" fill="#000" stroke="#000" textLength="32" lengthAdjust="spacingAndGlyphs">1.22822</text>
<text x="114.5" y="14" fill="#000" stroke="#000" textLength="32" lengthAdjust="spacingAndGlyphs">1.22844</text>
<text x="150.5" y="14" fill="#000" stroke="#000" textLength="32" lengthAdjust="spacingAndGlyphs">1.22782</text>
<text x="186.5" y="14" fill="#000" stroke="#000" textLength="32" lengthAdjust="spacingAndGlyphs">1.22807</text>
<text x="7.5" y="455" fill="#000" stroke="#000" textLength="60.5" lengthAdjust="spacingAndGlyphs">MACD(5,34,5)</text>
<text x="70" y="455" fill="#000" stroke="#000" textLength="41" lengthAdjust="spacingAndGlyphs">-0.000063</text>
<text x="115" y="455" fill="#000" stroke="#000" textLength="37.5" lengthAdjust="spacingAndGlyphs">0.000347</text>
<text x="2.5" y="592.6" fill="#000" stroke="#000" textLength="51.5" lengthAdjust="spacingAndGlyphs">26 Mar 2018</text>
<text x="66.5" y="592.6" fill="#000" stroke="#000" textLength="54.3" lengthAdjust="spacingAndGlyphs">26 Mar 21:00</text>
<text x="130.5" y="592.6" fill="#000" stroke="#000" textLength="54.3" lengthAdjust="spacingAndGlyphs">27 Mar 13:00</text>
<text x="194.5" y="592.6" fill="#000" stroke="#000" textLength="54.3" lengthAdjust="spacingAndGlyphs">28 Mar 05:00</text>
<text x="258.5" y="592.6" fill="#000" stroke="#000" textLength="54.3" lengthAdjust="spacingAndGlyphs">28 Mar 21:00</text>
<text x="322.5" y="592.6" fill="#000" stroke="#000" textLength="54.3" lengthAdjust="spacingAndGlyphs">29 Mar 13:00</text>
<text x="386.5" y="592.6" fill="#000" stroke="#000" textLength="54.3" lengthAdjust="spacingAndGlyphs">30 Mar 05:00</text>
<text x="450.5" y="592.6" fill="#000" stroke="#000" textLength="54.3" lengthAdjust="spacingAndGlyphs">30 Mar 21:00</text>
<text x="514.5" y="592.6" fill="#000" stroke="#000" textLength="48.5" lengthAdjust="spacingAndGlyphs">2 Apr 14:00</text>
<text x="578.5" y="592.6" fill="#000" stroke="#000" textLength="48.5" lengthAdjust="spacingAndGlyphs">3 Apr 06:00</text>
<text x="642.5" y="592.6" fill="#000" stroke="#000" textLength="48.5" lengthAdjust="spacingAndGlyphs">3 Apr 22:00</text>
<text x="706.5" y="592.6" fill="#000" stroke="#000" textLength="48.5" lengthAdjust="spacingAndGlyphs">4 Apr 14:00</text>
</svg>
</body></html>
